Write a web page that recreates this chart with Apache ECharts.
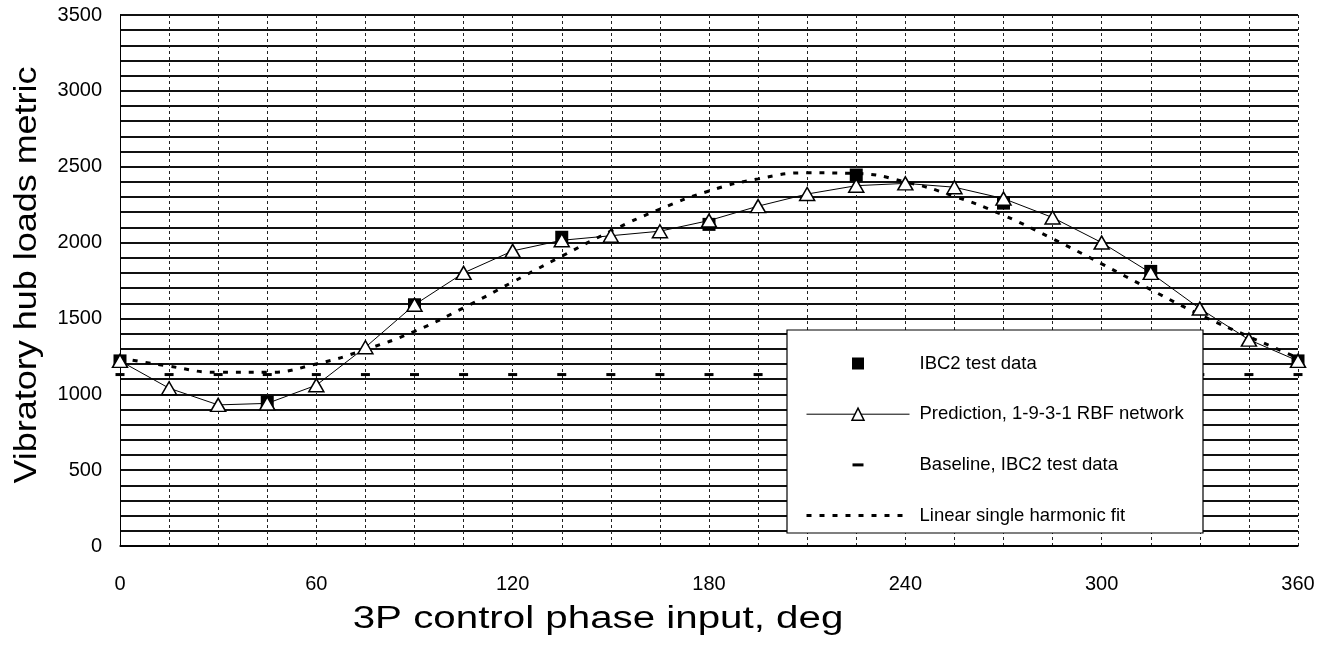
<!DOCTYPE html>
<html>
<head>
<meta charset="utf-8">
<script src="https://cdn.jsdelivr.net/npm/echarts@6/dist/echarts.min.js"></script>
<style>
  html, body { margin: 0; padding: 0; background: #fff; }
  #chart { width: 1333px; height: 649px; }
</style>
</head>
<body>
<div id="chart"></div>
<script>
// 3P control phase (deg) at which the network prediction, baseline and fit are given
const phaseDeg = [0, 15, 30, 45, 60, 75, 90, 105, 120, 135, 150, 165, 180,
                  195, 210, 225, 240, 255, 270, 285, 300, 315, 330, 345, 360];

// Prediction, 1-9-3-1 RBF network
const predictionLoads = [1220, 1040, 930, 940, 1060, 1310, 1590, 1800, 1945, 2015, 2045, 2075, 2145,
                         2240, 2320, 2375, 2390, 2365, 2290, 2165, 2000, 1800, 1565, 1360, 1220];

// Linear single harmonic fit
const harmonicFitLoads = [1240, 1185, 1145, 1145, 1200, 1295, 1415, 1570, 1740, 1910, 2075, 2220, 2340,
                          2420, 2460, 2455, 2400, 2305, 2180, 2025, 1860, 1690, 1525, 1380, 1240];

// Baseline, IBC2 test data
const baselineLoads = [1130, 1130, 1130, 1130, 1130, 1130, 1130, 1130, 1130, 1130, 1130, 1130, 1130,
                       1130, 1130, 1130, 1130, 1130, 1130, 1130, 1130, 1130, 1130, 1130, 1130];

// IBC2 test data
const testPhaseDeg = [0, 45, 90, 135, 180, 225, 270, 315, 360];
const testLoads = [1220, 950, 1590, 2035, 2120, 2445, 2260, 1810, 1220];

const seriesNames = ['IBC2 test data', 'Prediction, 1-9-3-1 RBF network',
                     'Baseline, IBC2 test data', 'Linear single harmonic fit'];
const xTitle = '3P control phase input, deg';
const yTitle = 'Vibratory hub loads metric';

const FONT = '"Liberation Sans", Arial, Helvetica, sans-serif';
const pairs = (xs, ys) => xs.map((x, i) => [x, ys[i]]);

const chart = echarts.init(document.getElementById('chart'), null, { renderer: 'canvas' });

chart.setOption({
  animation: false,
  backgroundColor: '#fff',
  textStyle: { fontFamily: FONT, color: '#000' },
  grid: { left: 120, right: 35, top: 15, bottom: 103, containLabel: false },
  xAxis: {
    type: 'value', min: 0, max: 360, interval: 60,
    axisLine: { show: true, lineStyle: { color: '#000', width: 1.5 } },
    axisTick: { show: false },
    axisLabel: { fontSize: 20, color: '#000', margin: 28, fontFamily: FONT },
    splitLine: { show: true, lineStyle: { color: '#222', width: 1, type: [3, 3] } },
    minorTick: { show: false, splitNumber: 4 },
    minorSplitLine: { show: true, lineStyle: { color: '#222', width: 1, type: [3, 3] } }
  },
  yAxis: {
    type: 'value', min: 0, max: 3500, interval: 500,
    axisLine: { show: true, lineStyle: { color: '#000', width: 1 } },
    axisTick: { show: false },
    axisLabel: { fontSize: 20, color: '#000', margin: 18, fontFamily: FONT,
                 formatter: v => String(v) },
    splitLine: { show: true, lineStyle: { color: '#111', width: 2 } },
    minorTick: { show: false, splitNumber: 5 },
    minorSplitLine: { show: true, lineStyle: { color: '#111', width: 2 } }
  },
  graphic: [
    {
      // legend frame
      type: 'rect', z: 3, silent: true,
      shape: { x: 787, y: 330, width: 416, height: 203 },
      style: { fill: '#fff', stroke: '#000', lineWidth: 1.2 }
    },
    {
      type: 'text', z: 3, silent: true,
      x: 598, y: 619, scaleX: 1.3,
      style: { text: xTitle, fontSize: 31, fontFamily: FONT, fill: '#000',
               align: 'center', verticalAlign: 'middle',
               textAlign: 'center', textVerticalAlign: 'middle' }
    },
    {
      type: 'text', z: 3, silent: true,
      x: 27, y: 275, rotation: Math.PI / 2, scaleX: 1.16,
      style: { text: yTitle, fontSize: 31, fontFamily: FONT, fill: '#000',
               align: 'center', verticalAlign: 'middle',
               textAlign: 'center', textVerticalAlign: 'middle' }
    }
  ],
  legend: {
    orient: 'vertical', left: 805, top: 354, padding: 0,
    itemWidth: 103, itemHeight: 15, itemGap: 31.7,
    selectedMode: false, z: 4,
    textStyle: { fontSize: 18.5, color: '#000', fontFamily: FONT, padding: [0, 0, 0, 5] },
    data: [
      { name: seriesNames[0] },
      { name: seriesNames[1], lineStyle: { width: 1 }, itemStyle: { borderWidth: 1.5 } },
      { name: seriesNames[2], icon: 'path://M0,0M103,15M46,6h11v3h-11z', itemStyle: { borderWidth: 0 } },
      { name: seriesNames[3], lineStyle: { width: 3 }, itemStyle: { opacity: 0 } }
    ]
  },
  series: [
    {
      name: seriesNames[3], type: 'line', z: 2, silent: true,
      data: pairs(phaseDeg, harmonicFitLoads),
      symbol: 'none', smooth: true,
      itemStyle: { color: '#000' },
      lineStyle: { color: '#000', width: 3, type: [5, 8] }
    },
    {
      name: seriesNames[2], type: 'line', z: 2, silent: true,
      data: pairs(phaseDeg, baselineLoads),
      symbol: 'rect', symbolSize: [9, 3],
      itemStyle: { color: '#000' },
      lineStyle: { width: 0 }
    },
    {
      name: seriesNames[0], type: 'line', z: 2, silent: true,
      data: pairs(testPhaseDeg, testLoads),
      symbol: 'rect', symbolSize: 13,
      itemStyle: { color: '#000' },
      lineStyle: { width: 0 }
    },
    {
      name: seriesNames[1], type: 'line', z: 2, silent: true,
      data: pairs(phaseDeg, predictionLoads),
      symbol: 'triangle', symbolSize: [15, 13],
      itemStyle: { color: '#fff', borderColor: '#000', borderWidth: 1.5 },
      lineStyle: { color: '#000', width: 1 }
    }
  ]
});
</script>
</body>
</html>
